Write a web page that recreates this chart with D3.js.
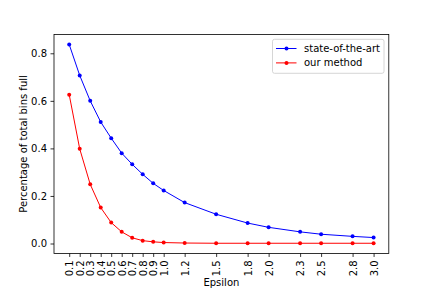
<!DOCTYPE html>
<html><head><meta charset="utf-8">
<script src="https://cdn.jsdelivr.net/npm/d3@7"></script>
<style>body{margin:0;background:#fff}svg{display:block}text{font-family:"DejaVu Sans",sans-serif}</style>
</head><body><svg id="c" width="432" height="288"></svg>
<script>
const epsilon = [0.1,0.2,0.3,0.4,0.5,0.6,0.7,0.8,0.9,1.0,1.2,1.5,1.8,2.0,2.3,2.5,2.8,3.0];
const stateOfTheArt = [0.837,0.707,0.600,0.511,0.443,0.380,0.333,0.291,0.253,0.223,0.172,0.123,0.086,0.068,0.049,0.039,0.030,0.025];
const ourMethod = [0.626,0.398,0.249,0.151,0.088,0.049,0.024,0.012,0.007,0.004,0.002,0.001,0.001,0.001,0.001,0.001,0.001,0.001];
const xTickLabels = ["0.1","0.2","0.3","0.4","0.5","0.6","0.7","0.8","0.9","1.0","1.2","1.5","1.8","2.0","2.3","2.5","2.8","3.0"];
const yTicks = [0.0,0.2,0.4,0.6,0.8];
const seriesNames = ["state-of-the-art","our method"];
const colors = ["#0000ff","#ff0000"];

const svg = d3.select("#c");
const L=54, R=388.8, T=34.56, B=253.44;
const x = d3.scaleLinear().domain([-0.045,3.145]).range([L,R]);
const y = d3.scaleLinear().domain([-0.0418,0.8788]).range([B,T]);

const line = d3.line().x((d,i)=>x(epsilon[i])).y(d=>y(d));
[stateOfTheArt, ourMethod].forEach((s,k)=>{
  svg.append("path").attr("d",line(s)).attr("fill","none").attr("stroke",colors[k]).attr("stroke-width",1);
  svg.selectAll(null).data(s).enter().append("circle")
    .attr("cx",(d,i)=>x(epsilon[i])).attr("cy",d=>y(d)).attr("r",2).attr("fill",colors[k]);
});

const xa = svg.append("g").attr("transform",`translate(0,${B})`)
  .call(d3.axisBottom(x).tickValues(epsilon).tickFormat((d,i)=>xTickLabels[i]).tickSize(3.5).tickPadding(3.5));
xa.select(".domain").remove();
xa.selectAll("text").attr("transform","rotate(-90)").attr("text-anchor","end")
  .attr("x",-7).attr("y",0).attr("dy","0.35em").attr("font-size",10).attr("fill","#000").attr("font-family","DejaVu Sans");
xa.selectAll("line").attr("stroke","#000").attr("stroke-width",0.8);

const ya = svg.append("g").attr("transform",`translate(${L},0)`)
  .call(d3.axisLeft(y).tickValues(yTicks).tickFormat(d3.format(".1f")).tickSize(3.5).tickPadding(3.5));
ya.select(".domain").remove();
ya.selectAll("text").attr("font-size",10).attr("fill","#000").attr("font-family","DejaVu Sans");
ya.selectAll("line").attr("stroke","#000").attr("stroke-width",0.8);

svg.append("rect").attr("x",L).attr("y",T).attr("width",R-L).attr("height",B-T)
  .attr("fill","none").attr("stroke","#000").attr("stroke-width",0.8);

svg.append("text").attr("x",(L+R)/2).attr("y",286).attr("text-anchor","middle").attr("font-size",10).text("Epsilon");
svg.append("text").attr("transform",`translate(26.5,${(T+B)/2}) rotate(-90)`).attr("text-anchor","middle").attr("font-size",10).text("Percentage of total bins full");

const lg = svg.append("g").attr("transform","translate(272.5,39.3)");
lg.append("rect").attr("x",0).attr("y",0).attr("width",111.5).attr("height",34).attr("rx",2)
  .attr("fill","#fff").attr("fill-opacity",0.8).attr("stroke","#ccc").attr("stroke-width",0.8);
seriesNames.forEach((n,k)=>{
  const yy = 9.2 + k*14.4;
  lg.append("line").attr("x1",3.5).attr("x2",24).attr("y1",yy).attr("y2",yy).attr("stroke",colors[k]).attr("stroke-width",1);
  lg.append("circle").attr("cx",14).attr("cy",yy).attr("r",2).attr("fill",colors[k]);
  lg.append("text").attr("x",31.5).attr("y",yy).attr("dy","0.35em").attr("font-size",10).text(n);
});
</script></body></html>
